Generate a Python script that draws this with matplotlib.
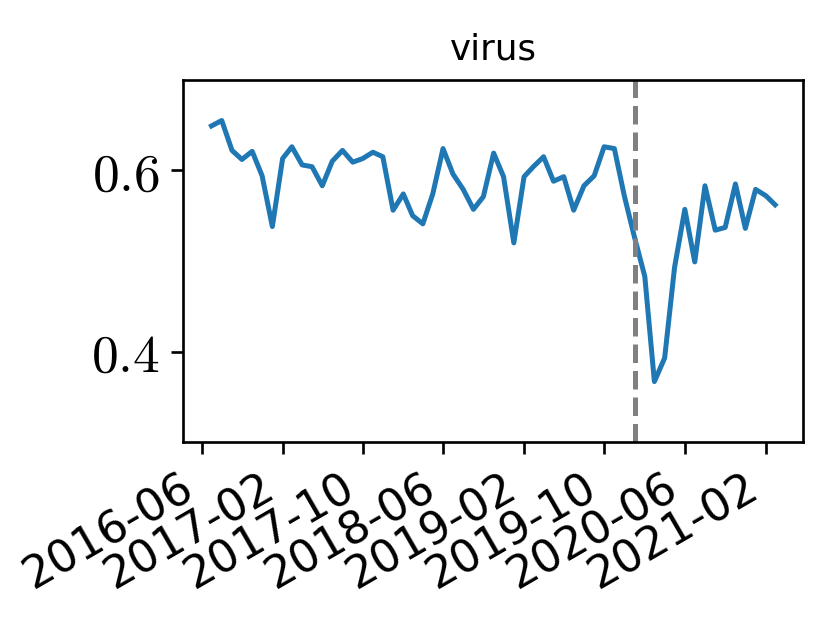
import numpy as np
import pandas as pd
import matplotlib
matplotlib.use("Agg")
import matplotlib.pyplot as plt
import matplotlib.dates as mdates
from matplotlib.ticker import FuncFormatter

plt.rcParams['mathtext.fontset'] = 'cm'

# monthly share, 2016-07 .. 2021-03
months = pd.date_range('2016-07-01', '2021-03-01', freq='MS')
values = [0.649, 0.655, 0.622, 0.612, 0.621, 0.594, 0.538, 0.613, 0.626, 0.606,
          0.604, 0.583, 0.610, 0.622, 0.609, 0.613, 0.620, 0.615, 0.556, 0.574,
          0.550, 0.541, 0.574, 0.624, 0.596, 0.579, 0.557, 0.571, 0.619, 0.593,
          0.520, 0.593, 0.604, 0.615, 0.588, 0.593, 0.556, 0.583, 0.594, 0.626,
          0.624, 0.572, 0.526, 0.483, 0.367, 0.393, 0.493, 0.557, 0.499, 0.583,
          0.534, 0.537, 0.585, 0.536, 0.579, 0.572, 0.562]
event_date = pd.Timestamp('2020-01-01')
tick_months = ['2016-06', '2017-02', '2017-10', '2018-06',
               '2019-02', '2019-10', '2020-06', '2021-02']
y_ticks = [0.4, 0.6]

fig = plt.figure(figsize=(830 / 240, 624 / 240), dpi=240)
ax = fig.add_axes([183.3 / 830, 1 - 442.3 / 624, 620 / 830, 362.6 / 624])

ax.plot(months, values, color='#1f77b4', lw=1.5)
ax.axvline(event_date, color='gray', ls='--', lw=1.5)

ax.set_ylim(0.3, 0.7)
ax.set_yticks(y_ticks)
ax.yaxis.set_major_formatter(FuncFormatter(lambda v, p: r'$%.1f$' % v))
ax.tick_params(axis='y', labelsize=16)

ax.set_xticks(pd.to_datetime(tick_months))
ax.xaxis.set_major_formatter(mdates.DateFormatter('%Y-%m'))
ax.tick_params(axis='x', labelsize=13.5)
for lbl in ax.get_xticklabels():
    lbl.set_rotation(30)
    lbl.set_ha('right')

ax.set_title('virus', fontsize=10.7)

fig.savefig('out.png', dpi=240)
